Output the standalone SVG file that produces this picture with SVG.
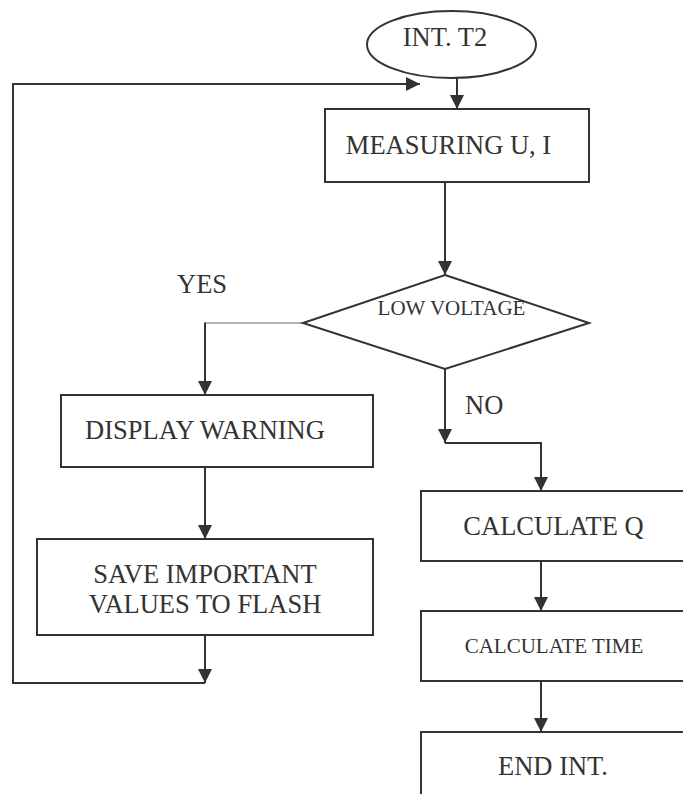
<svg xmlns="http://www.w3.org/2000/svg" width="683" height="794" viewBox="0 0 683 794">
<defs>
<marker id="arr" markerUnits="userSpaceOnUse" markerWidth="14" markerHeight="14" refX="14" refY="7" orient="auto">
<path d="M0,0 L14,7 L0,14 z" fill="#333"/>
</marker>
<style>
.shape{fill:#fff;stroke:#333;stroke-width:2}
.ln{fill:none;stroke:#333;stroke-width:2}
.thin{fill:none;stroke:#666;stroke-width:1}
text{font-family:"Liberation Serif","Times New Roman",serif;fill:#333;font-size:26.5px}
.c{text-anchor:middle}
.s{font-size:21px}
</style>
</defs>
<rect width="683" height="794" fill="#fff"/>
<g id="connectors">
<path class="ln" d="M457,78 L457,109" marker-end="url(#arr)"/>
<path class="ln" d="M205,635 L205,683" marker-end="url(#arr)"/>
<path class="ln" d="M205,683 L13,683 L13,84 L420,84" marker-end="url(#arr)"/>
<path class="ln" d="M445,182 L445,275" marker-end="url(#arr)"/>
<path class="thin" d="M303,323 L205,323"/>
<path class="ln" d="M205,322.5 L205,395" marker-end="url(#arr)"/>
<path class="ln" d="M205,467 L205,539" marker-end="url(#arr)"/>
<path class="ln" d="M445,369 L445,443" marker-end="url(#arr)"/>
<path class="ln" d="M445,443 L541,443 L541,491" marker-end="url(#arr)"/>
<path class="ln" d="M541,561 L541,611" marker-end="url(#arr)"/>
<path class="ln" d="M541,681 L541,732" marker-end="url(#arr)"/>
</g>
<g id="start">
<ellipse class="shape" cx="451.5" cy="44.5" rx="84.5" ry="33.5"/>
<text class="c" x="445" y="46">INT. T2</text>
</g>
<g id="measure">
<rect class="shape" x="325" y="109" width="264" height="73"/>
<text class="c" x="448.5" y="154">MEASURING U, I</text>
</g>
<g id="decision">
<polygon class="shape" points="445,275 589,323 445,369 303,323"/>
<text class="c s" x="451.5" y="315">LOW VOLTAGE</text>
</g>
<g id="labels">
<text x="177" y="293">YES</text>
<text x="465" y="414">NO</text>
</g>
<g id="warning">
<rect class="shape" x="61" y="395" width="312" height="72"/>
<text class="c" x="205" y="439">DISPLAY WARNING</text>
</g>
<g id="save">
<rect class="shape" x="37" y="539" width="336" height="96"/>
<text class="c" x="205" y="583">SAVE IMPORTANT</text>
<text class="c" x="205" y="613">VALUES TO FLASH</text>
</g>
<g id="calcq">
<rect class="shape" x="421" y="491" width="266" height="70"/>
<text class="c" x="553.5" y="535">CALCULATE Q</text>
</g>
<g id="calctime">
<rect class="shape" x="421" y="611" width="266" height="70"/>
<text class="c s" x="554" y="653">CALCULATE TIME</text>
</g>
<g id="end">
<rect class="shape" x="421" y="732" width="266" height="80"/>
<text class="c" x="553" y="775">END INT.</text>
</g>
</svg>
